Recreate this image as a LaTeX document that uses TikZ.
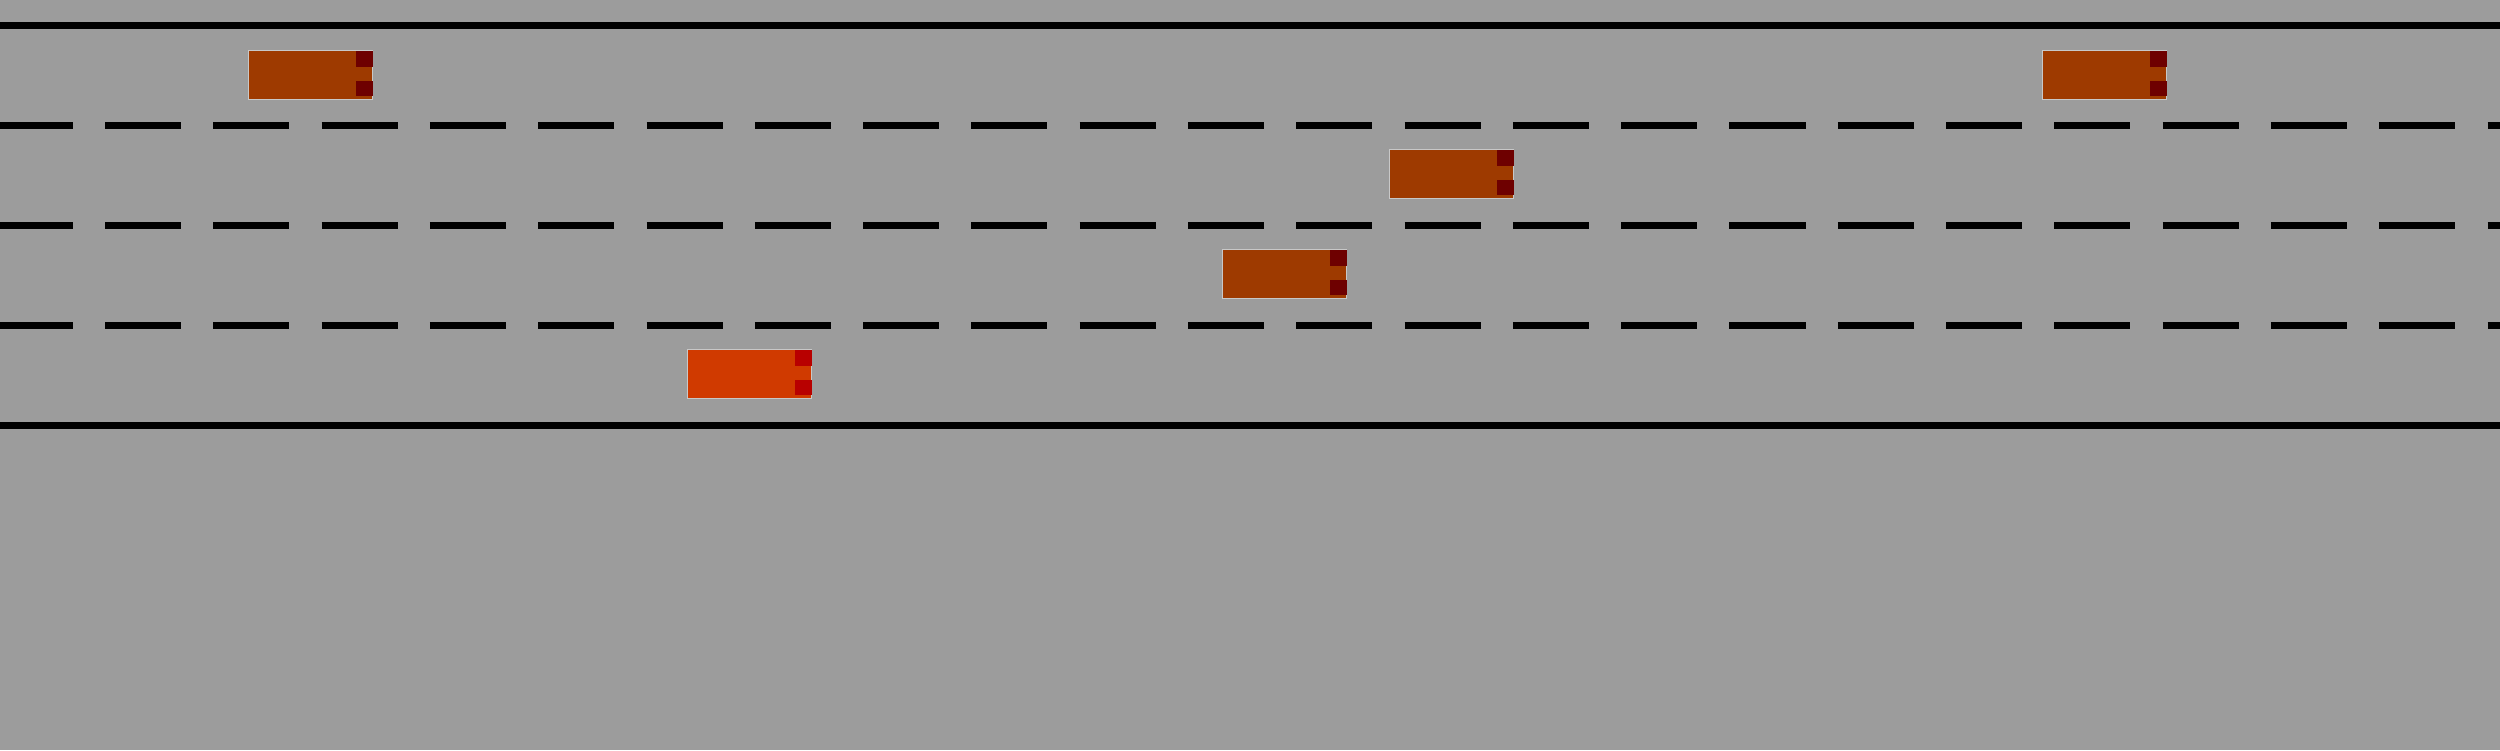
\documentclass[tikz,border=0pt]{standalone}
\usepackage{tikz}
\usetikzlibrary{calc}
\usepackage{xcolor}
\definecolor{roadbg}{HTML}{9C9C9C}
\definecolor{carfill}{HTML}{9E3A00}
\definecolor{carlight}{HTML}{6E0000}
\definecolor{egofill}{HTML}{D03A00}
\definecolor{egolight}{HTML}{B80000}
\definecolor{carrim}{HTML}{C8C8C8}

\begin{document}
\begin{tikzpicture}[x=0.01cm,y=-0.01cm,
    vehicle/.style={draw=carrim,line width=0.3pt,fill=carfill,inner sep=0pt,
      minimum width=1.245cm,minimum height=0.495cm},
    egovehicle/.style={vehicle,fill=egofill},
    solidline/.style={line width=0.07cm,black},
    laneline/.style={line width=0.07cm,black,dash pattern=on 0.76cm off 0.3223cm,dash phase=0.032cm}]
    \fill[roadbg] (0,0) rectangle (2500,750);
    \useasboundingbox (0,0) rectangle (2500,750);
    % road edges and lane markings
    \draw[solidline] (0,25.5) -- (2500,25.5);
    \draw[solidline] (0,425.5) -- (2500,425.5);
    \foreach \y in {125.5,225.5,325.5}
      \draw[laneline] (0,\y) -- (2500,\y);
    % vehicles
    \node[vehicle] (car1) at (310.4,74.9) {};
    \node[vehicle] (car2) at (2104.5,75) {};
    \node[vehicle] (car3) at (1451.5,173.8) {};
    \node[vehicle] (car4) at (1284.5,273.8) {};
    \node[egovehicle] (ego) at (749.4,373.9) {};
    \foreach \c/\col in {car1/carlight,car2/carlight,car3/carlight,car4/carlight,ego/egolight}{
      \fill[\col] ($(\c.north east)+(-17,1.7)$) rectangle ($(\c.north east)+(-0.5,17)$);
      \fill[\col] ($(\c.north east)+(-17,31)$) rectangle ($(\c.north east)+(-0.5,46)$);
    }
\end{tikzpicture}
\end{document}
